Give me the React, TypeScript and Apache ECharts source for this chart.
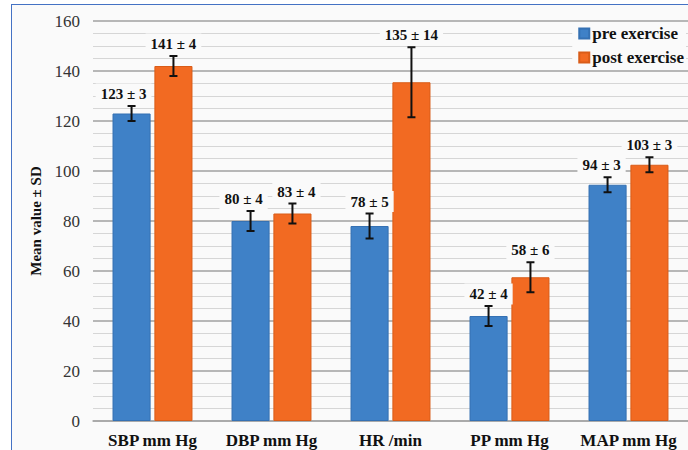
import React, { useEffect, useRef } from "react";
import * as echarts from "echarts";

const categories = ["SBP mm Hg", "DBP mm Hg", "HR /min", "PP mm Hg", "MAP mm Hg"];
const seriesNames = ["pre exercise", "post exercise"];
const preValues = [123, 80, 78, 42, 94.5];
const postValues = [142, 83, 135.5, 57.5, 102.5];
const preSD = [3, 4, 5, 4, 3];
const postSD = [4, 4, 14, 6, 3];
const preLabels = ["123 ± 3", "80 ± 4", "78 ± 5", "42 ± 4", "94 ± 3"];
const postLabels = ["141 ± 4", "83 ± 4", "135 ± 14", "58 ± 6", "103 ± 3"];
const yTicks = { min: 0, max: 160, interval: 20 };

// small horizontal label nudges (style only)
const preNudge = [-8, -7, 0, 0, -6];
const postNudge = [0, 4, 0, 0, 0];

const FONT = "Liberation Serif, Times New Roman, serif";
const BG = "#fafafa";

function errRenderer(dir: number, labels: string[], nudge: number[]) {
  return (params: any, api: any) => {
    const idx = api.value(0);
    const mean = api.value(1);
    const sd = api.value(2);
    const band = api.size([1, 0])[0];
    const x = api.coord([idx, mean])[0] + dir * band * 0.176;
    const yTop = api.coord([idx, mean + sd])[1];
    const yBot = api.coord([idx, mean - sd])[1];
    const cap = 4;
    const ls = { stroke: "#111", lineWidth: 2 };
    return {
      type: "group",
      children: [
        { type: "line", shape: { x1: x, y1: yTop, x2: x, y2: yBot }, style: ls },
        { type: "line", shape: { x1: x - cap, y1: yTop, x2: x + cap, y2: yTop }, style: ls },
        { type: "line", shape: { x1: x - cap, y1: yBot, x2: x + cap, y2: yBot }, style: ls },
        {
          type: "text",
          style: {
            text: labels[params.dataIndex],
            x: x + nudge[params.dataIndex],
            y: yTop - 12,
            align: "center",
            verticalAlign: "middle",
            fontFamily: FONT,
            fontWeight: "bold",
            fontSize: 15,
            fill: "#111",
            backgroundColor: BG,
            padding: [3, 5],
          },
        },
      ],
    };
  };
}

export default function App() {
  const ref = useRef<HTMLDivElement>(null);
  useEffect(() => {
    if (!ref.current) return;
    const chart = echarts.init(ref.current, undefined, { renderer: "svg" });
    chart.setOption({
      animation: false,
      backgroundColor: "transparent",
      textStyle: { fontFamily: FONT },
      grid: { left: 93, right: 0, top: 21, bottom: 29 },
      legend: {
        data: seriesNames,
        orient: "vertical",
        right: 2,
        top: 22,
        icon: "rect",
        itemWidth: 10,
        itemHeight: 10,
        itemGap: 7,
        backgroundColor: BG,
        padding: [3, 2, 3, 6],
        textStyle: { fontFamily: FONT, fontWeight: "bold", fontSize: 17, color: "#111", padding: [0, 0, 0, -2] },
      },
      xAxis: {
        type: "category",
        data: categories,
        axisTick: { show: false },
        axisLine: { show: true, lineStyle: { color: "#a6a6a6", width: 1.5 } },
        axisLabel: { interval: 0, hideOverlap: false, fontFamily: FONT, fontWeight: "bold", fontSize: 17, color: "#111", margin: 11 },
      },
      yAxis: {
        type: "value",
        min: yTicks.min,
        max: yTicks.max,
        interval: yTicks.interval,
        name: "Mean value ± SD",
        nameLocation: "middle",
        nameGap: 38,
        nameTextStyle: { fontFamily: FONT, fontWeight: "bold", fontSize: 15, color: "#111" },
        axisLine: { show: false },
        axisTick: { show: false },
        axisLabel: { fontFamily: FONT, fontSize: 17, color: "#333", margin: 13 },
        splitLine: { show: true, lineStyle: { color: "#a0a0a0", width: 1.5 } },
        minorTick: { show: false, splitNumber: 4 },
        minorSplitLine: { show: true, lineStyle: { color: "#d6d6d6", width: 1 } },
      },
      series: [
        {
          name: seriesNames[0],
          type: "bar",
          data: preValues,
          barWidth: "32%",
          barGap: "10%",
          itemStyle: { color: "#3f81c7", borderColor: "#3571b3", borderWidth: 1 },
        },
        {
          name: seriesNames[1],
          type: "bar",
          data: postValues,
          barWidth: "32%",
          barGap: "10%",
          itemStyle: { color: "#f26a22", borderColor: "#d95c18", borderWidth: 1 },
        },
        {
          name: "pre err",
          type: "custom",
          renderItem: errRenderer(-1, preLabels, preNudge),
          data: preValues.map((v, i) => [i, v, preSD[i]]),
          encode: { x: 0, y: 1 },
          z: 5,
        },
        {
          name: "post err",
          type: "custom",
          renderItem: errRenderer(1, postLabels, postNudge),
          data: postValues.map((v, i) => [i, v, postSD[i]]),
          encode: { x: 0, y: 1 },
          z: 5,
        },
      ],
    });
    return () => chart.dispose();
  }, []);
  return (
    <div style={{ position: "fixed", left: 0, top: 0, width: 688, height: 450, background: "#fff", overflow: "hidden" }}>
      <div
        style={{
          position: "absolute",
          left: 11,
          top: 4,
          width: 720,
          height: 480,
          border: "1.5px solid #4472c4",
          background: BG,
        }}
      />
      <div ref={ref} style={{ position: "absolute", left: 0, top: 0, width: 688, height: 450 }} />
    </div>
  );
}
